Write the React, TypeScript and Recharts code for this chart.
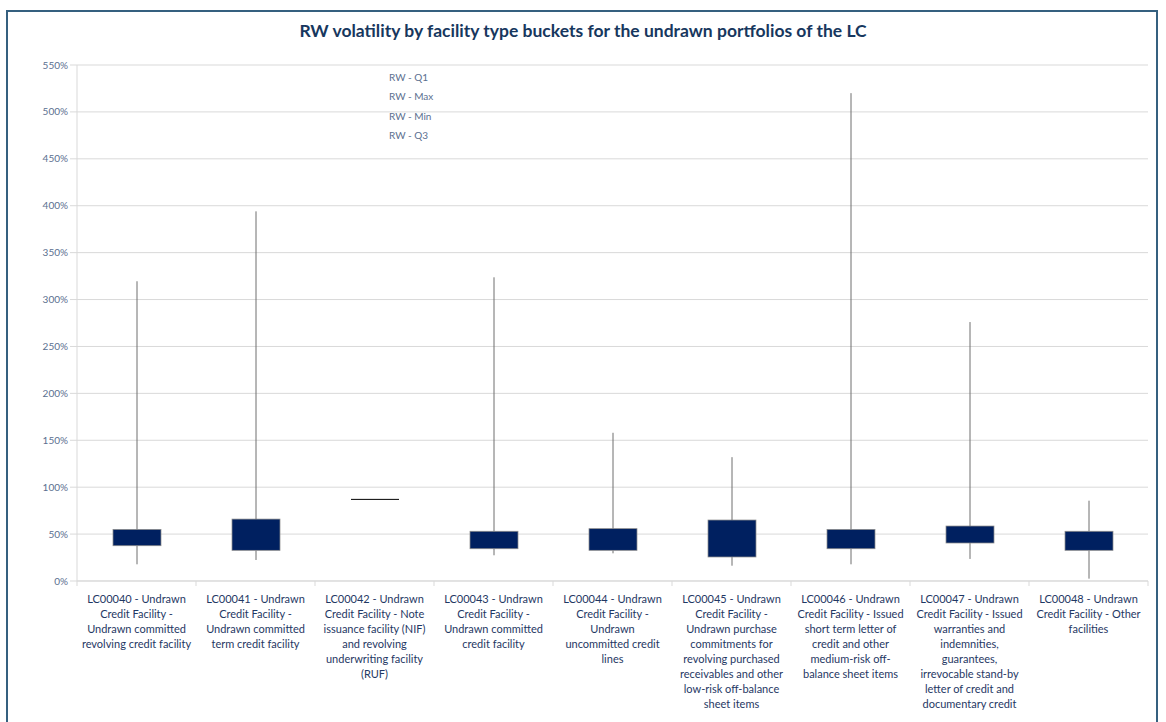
import { ComposedChart, Bar, XAxis, YAxis, CartesianGrid } from 'recharts';

// facility buckets (codes) and the wrapped axis labels as they appear in the report
const facilityCodes = ['LC00040', 'LC00041', 'LC00042', 'LC00043', 'LC00044', 'LC00045', 'LC00046', 'LC00047', 'LC00048'];

const facilityLabels: string[][] = [
  ['LC00040 - Undrawn', 'Credit Facility -', 'Undrawn committed', 'revolving credit facility'],
  ['LC00041 - Undrawn', 'Credit Facility -', 'Undrawn committed', 'term credit facility'],
  ['LC00042 - Undrawn', 'Credit Facility - Note', 'issuance facility (NIF)', 'and revolving', 'underwriting facility', '(RUF)'],
  ['LC00043 - Undrawn', 'Credit Facility -', 'Undrawn committed', 'credit facility'],
  ['LC00044 - Undrawn', 'Credit Facility -', 'Undrawn', 'uncommitted credit', 'lines'],
  ['LC00045 - Undrawn', 'Credit Facility -', 'Undrawn purchase', 'commitments for', 'revolving purchased', 'receivables and other', 'low-risk off-balance', 'sheet items'],
  ['LC00046 - Undrawn', 'Credit Facility - Issued', 'short term letter of', 'credit and other', 'medium-risk off-', 'balance sheet items'],
  ['LC00047 - Undrawn', 'Credit Facility - Issued', 'warranties and', 'indemnities,', 'guarantees,', 'irrevocable stand-by', 'letter of credit and', 'documentary credit'],
  ['LC00048 - Undrawn', 'Credit Facility - Other', 'facilities'],
];

// RW statistics in %
const rwMin = [17.8, 22.4, 87, 27.4, 29.5, 16.3, 17.8, 23.5, 2.5];
const rwQ1 = [37.6, 32.7, 87, 34.4, 32.7, 25.6, 34.4, 40.5, 32.7];
const rwQ3 = [55, 66, 87, 53, 55.8, 65, 55, 58.6, 53];
const rwMax = [319.5, 394, 87, 323.7, 158, 132, 520, 276, 85.6];

const yTicks = [0, 50, 100, 150, 200, 250, 300, 350, 400, 450, 500, 550];
const legendNames = ['RW - Q1', 'RW - Max', 'RW - Min', 'RW - Q3'];

const chartData = facilityCodes.map((code, i) => ({
  code,
  lines: facilityLabels[i],
  base: rwMin[i],
  lowWhisker: rwQ1[i] - rwMin[i],
  box: rwQ3[i] - rwQ1[i],
  highWhisker: rwMax[i] - rwQ3[i],
}));

const NAVY = '#1F3864';
const AXIS_TEXT = '#5B6F8F';
const GRID = '#D9D9D9';
const HALF_BAND = 59.5;

const Whisker = (props: any) => {
  const { x, y, width, height } = props;
  const cx = x + width / 2;
  return <line x1={cx} x2={cx} y1={y} y2={y + height} stroke="#6F6F6F" strokeWidth={1} />;
};

const BoxShape = (props: any) => {
  const { x, y, width, height } = props;
  if (Math.abs(height) < 0.5) {
    return <line x1={x} x2={x + width} y1={y} y2={y} stroke="#000" strokeWidth={1} />;
  }
  return <rect x={x} y={y} width={width} height={height} fill="#002060" stroke="#8C8C8C" strokeWidth={0.75} />;
};

const CategoryTick = (props: any) => {
  const { x, y, payload, index } = props;
  const lines: string[] = facilityLabels[index] ?? [payload.value];
  return (
    <g>
      <line x1={x + HALF_BAND} x2={x + HALF_BAND} y1={y - 8} y2={y - 3} stroke={GRID} />
      {index === 0 && <line x1={x - HALF_BAND} x2={x - HALF_BAND} y1={y - 8} y2={y - 3} stroke={GRID} />}
      <text x={x} y={y + 14} textAnchor="middle" fill={NAVY} fontSize={11} fontFamily="Lato, 'Open Sans', sans-serif">
        {lines.map((line, i) => (
          <tspan key={i} x={x} dy={i === 0 ? 0 : 15}>
            {line}
          </tspan>
        ))}
      </text>
    </g>
  );
};

export default function App() {
  return (
    <div style={{ position: 'absolute', left: 0, top: 0, width: 1166, height: 722, background: '#fff', overflow: 'hidden', fontFamily: 'Lato, sans-serif' }}>
      <div style={{ position: 'absolute', left: 6, top: 10, width: 1152, height: 730, border: '2px solid #35607F', boxSizing: 'border-box' }} />
      <div style={{ position: 'absolute', left: 0, top: 20, width: 1166, textAlign: 'center', fontSize: 17.5, fontWeight: 700, color: '#17375E' }}>
        RW volatility by facility type buckets for the undrawn portfolios of the LC
      </div>
      <div style={{ position: 'absolute', left: 389, top: 68, fontSize: 10, color: AXIS_TEXT, lineHeight: '19.3px' }}>
        {legendNames.map((n) => (
          <div key={n}>{n}</div>
        ))}
      </div>
      <ComposedChart
        width={1166}
        height={722}
        data={chartData}
        margin={{ top: 65, right: 18, bottom: 0, left: 0 }}
        barSize={48}
      >
        <CartesianGrid vertical={false} stroke={GRID} />
        <XAxis
          dataKey="code"
          height={141}
          interval={0}
          tickLine={false}
          axisLine={{ stroke: GRID }}
          tick={<CategoryTick />}
        />
        <YAxis
          width={77}
          domain={[0, 550]}
          ticks={yTicks}
          interval={0}
          tickFormatter={(v: number) => `${v}%`}
          tick={{ fill: AXIS_TEXT, fontSize: 10, fontFamily: 'Lato, sans-serif' }}
          tickLine={{ stroke: GRID }}
          tickSize={7}
          axisLine={{ stroke: GRID }}
        />
        <Bar dataKey="base" stackId="rw" fill="none" isAnimationActive={false} />
        <Bar dataKey="lowWhisker" stackId="rw" shape={<Whisker />} isAnimationActive={false} />
        <Bar dataKey="box" stackId="rw" shape={<BoxShape />} isAnimationActive={false} />
        <Bar dataKey="highWhisker" stackId="rw" shape={<Whisker />} isAnimationActive={false} />
      </ComposedChart>
    </div>
  );
}
